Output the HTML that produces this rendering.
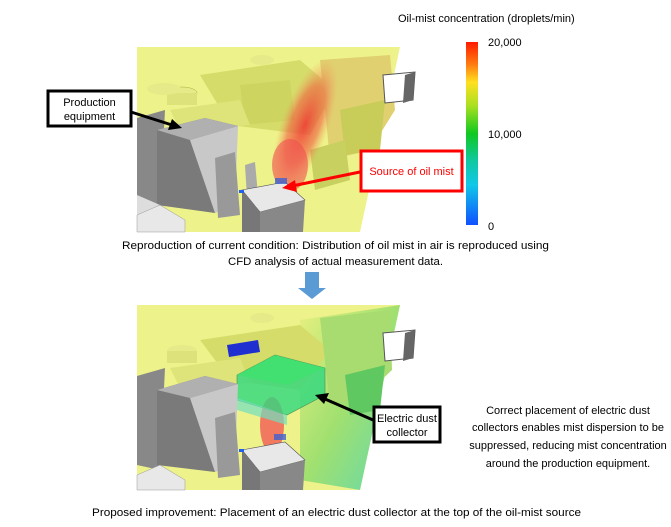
<!DOCTYPE html>
<html><head><meta charset="utf-8"><style>
html,body{margin:0;padding:0;background:#fff}
svg{display:block}
text{font-family:"Liberation Sans",sans-serif;font-size:11px;fill:#000}
</style></head><body>
<svg width="671" height="527" viewBox="0 0 671 527" xmlns="http://www.w3.org/2000/svg">
<defs>
<linearGradient id="cb" x1="0" y1="0" x2="0" y2="1">
<stop offset="0" stop-color="#ff1a00"/><stop offset="0.12" stop-color="#ff7a10"/>
<stop offset="0.22" stop-color="#ffe020"/><stop offset="0.35" stop-color="#a8e020"/>
<stop offset="0.5" stop-color="#10c820"/><stop offset="0.65" stop-color="#10c8a0"/>
<stop offset="0.78" stop-color="#10c8e8"/><stop offset="1" stop-color="#1050ff"/>
</linearGradient>
<radialGradient id="plume" cx="0.5" cy="0.5" r="0.5">
<stop offset="0" stop-color="#f03030" stop-opacity="0.85"/><stop offset="0.6" stop-color="#f06040" stop-opacity="0.6"/><stop offset="1" stop-color="#f0a060" stop-opacity="0"/>
</radialGradient>
<linearGradient id="grn" x1="0" y1="0" x2="1" y2="1">
<stop offset="0" stop-color="#e8f080"/><stop offset="0.5" stop-color="#a0e070"/><stop offset="1" stop-color="#60d8b0"/>
</linearGradient>
</defs>

<text x="398" y="22">Oil-mist concentration (droplets/min)</text>
<rect x="466" y="42" width="12" height="183" fill="url(#cb)"/>
<text x="488" y="46" fill="#333">20,000</text>
<text x="488" y="138" fill="#333">10,000</text>
<text x="488" y="230" fill="#333">0</text>

<!-- TOP IMAGE -->
<g>
<polygon points="137,47 400,47 360,232 137,232" fill="#eef28a"/>
<polygon points="200,75 300,60 335,90 310,135 230,125" fill="#d6dc6a"/>
<polygon points="240,85 290,80 295,120 245,125" fill="#cdd560"/>
<polygon points="170,110 240,100 250,125 180,130" fill="#dfe47a"/>
<ellipse cx="182" cy="93" rx="15" ry="6" fill="#e6ea88" stroke="#aab040" stroke-width="0.5"/>
<rect x="167" y="93" width="30" height="12" fill="#dde27a"/>
<ellipse cx="164" cy="89" rx="17" ry="6" fill="#e6ea88"/>
<ellipse cx="262" cy="60" rx="12" ry="5" fill="#e6ea88"/>
<polygon points="320,60 390,55 395,110 370,150 330,160" fill="#e0d070"/>
<polygon points="340,110 385,100 380,150 345,155" fill="#c8cc58"/>
<polygon points="310,150 345,140 350,180 315,190" fill="#c8d060"/>
<ellipse cx="305" cy="125" rx="24" ry="70" fill="url(#plume)" transform="rotate(20 305 125)"/>
<ellipse cx="290" cy="165" rx="18" ry="26" fill="#f05050" opacity="0.6"/>
<polygon points="383,75 415,72 413,100 385,103" fill="#fff" stroke="#555"/>
<polygon points="405,75 415,72 413,100 403,103" fill="#666"/>
<polygon points="137,118 165,110 160,210 137,205" fill="#888"/>
<polygon points="157,130 205,118 238,126 215,213 157,205" fill="#7a7a7a"/>
<polygon points="157,130 205,118 238,126 190,140" fill="#b0b0b0"/>
<polygon points="190,140 238,126 235,205 215,213" fill="#c8c8c8"/>
<polygon points="215,158 235,152 240,215 218,218" fill="#999"/>
<polygon points="245,165 255,162 258,195 247,197" fill="#aaa"/>
<polygon points="242,190 285,182 305,200 260,212" fill="#e8e8e8" stroke="#555" stroke-width="0.6"/>
<polygon points="242,190 260,212 260,232 242,232" fill="#777"/>
<polygon points="260,212 305,200 303,232 260,232" fill="#888"/>
<rect x="275" y="178" width="12" height="6" fill="#4060d0" opacity="0.8"/>
<rect x="239" y="190" width="5" height="3" fill="#2060f0"/>
<polygon points="137,195 160,205 165,232 137,232" fill="#ddd"/>
<polygon points="137,215 160,205 185,220 185,232 137,232" fill="#e8e8e8" stroke="#999" stroke-width="0.5"/>
</g>

<rect x="48" y="91" width="83" height="35" fill="#fff" stroke="#000" stroke-width="3"/>
<text x="89.5" y="106" text-anchor="middle">Production</text>
<text x="89.5" y="120" text-anchor="middle">equipment</text>
<line x1="131" y1="112" x2="172" y2="125" stroke="#000" stroke-width="3"/>
<polygon points="182,128 168,130 172,119" fill="#000"/>
<rect x="361" y="151" width="101" height="40" fill="#fff" stroke="#f00" stroke-width="3"/>
<text x="411.5" y="175" text-anchor="middle" style="fill:#f00">Source of oil mist</text>
<line x1="360" y1="172" x2="292" y2="186" stroke="#f00" stroke-width="3"/>
<polygon points="282,188 295,180 297,192" fill="#f00"/>

<text x="122" y="249" textLength="427" lengthAdjust="spacingAndGlyphs">Reproduction of current condition: Distribution of oil mist in air is reproduced using</text>
<text x="228" y="265" textLength="215" lengthAdjust="spacingAndGlyphs">CFD analysis of actual measurement data.</text>

<polygon points="305,272 319,272 319,288 326,288 312,299 298,288 305,288" fill="#5b9bd5"/>

<!-- BOTTOM IMAGE -->
<g>
<polygon points="137,305 400,305 360,490 137,490" fill="#eef28a"/>
<polygon points="300,320 400,305 360,490 300,480" fill="url(#grn)"/>
<polygon points="200,340 300,325 330,350 300,390 230,380" fill="#d6dc6a"/>
<polygon points="170,368 240,358 250,383 180,388" fill="#dfe47a"/>
<ellipse cx="182" cy="351" rx="15" ry="6" fill="#e6ea88"/>
<rect x="167" y="351" width="30" height="12" fill="#dde27a"/>
<ellipse cx="262" cy="318" rx="12" ry="5" fill="#e6ea88"/>
<polygon points="320,318 390,310 392,370 360,400 330,405" fill="#a8dc70"/>
<polygon points="345,375 385,365 380,410 350,415" fill="#60c860"/>
<polygon points="383,333 415,330 413,358 385,361" fill="#fff" stroke="#555"/>
<polygon points="405,333 415,330 413,358 403,361" fill="#666"/>
<polygon points="227,345 258,340 260,352 229,357" fill="#2030d0"/>
<ellipse cx="272" cy="425" rx="12" ry="28" fill="#f05050" opacity="0.75"/>
<polygon points="237,375 275,355 325,368 325,395 287,415 237,400" fill="#30d880" opacity="0.8" stroke="#2a7a4a" stroke-width="0.6"/>
<polygon points="237,375 275,355 325,368 287,385" fill="#40e070" opacity="0.9"/>
<polygon points="237,398 287,415 287,425 237,410" fill="#70e0c0" opacity="0.7"/>
<polygon points="137,376 165,368 160,470 137,465" fill="#888"/>
<polygon points="157,390 205,376 238,384 215,472 157,465" fill="#7a7a7a"/>
<polygon points="157,390 205,376 238,384 190,398" fill="#b0b0b0"/>
<polygon points="190,398 238,384 235,465 215,472" fill="#c8c8c8"/>
<polygon points="215,418 235,412 240,475 218,478" fill="#999"/>
<polygon points="242,450 285,442 305,460 260,472" fill="#e8e8e8" stroke="#555" stroke-width="0.6"/>
<polygon points="242,450 260,472 260,490 242,490" fill="#777"/>
<polygon points="260,472 305,460 303,490 260,490" fill="#888"/>
<rect x="274" y="434" width="12" height="6" fill="#4060d0" opacity="0.8"/>
<rect x="239" y="449" width="5" height="3" fill="#2060f0"/>
<polygon points="137,475 160,465 185,480 185,490 137,490" fill="#e8e8e8" stroke="#999" stroke-width="0.5"/>
</g>

<rect x="374" y="407" width="66" height="35" fill="#fff" stroke="#000" stroke-width="3"/>
<text x="407" y="422" text-anchor="middle">Electric dust</text>
<text x="407" y="436" text-anchor="middle">collector</text>
<line x1="373" y1="420" x2="325" y2="399" stroke="#000" stroke-width="3"/>
<polygon points="315,395 329,393 324,404" fill="#000"/>

<text x="568" y="414" text-anchor="middle">Correct placement of electric dust</text>
<text x="568" y="431" text-anchor="middle">collectors enables mist dispersion to be</text>
<text x="568" y="449" text-anchor="middle">suppressed, reducing mist concentration</text>
<text x="568" y="467" text-anchor="middle">around the production equipment.</text>

<text x="92" y="516" textLength="489" lengthAdjust="spacingAndGlyphs">Proposed improvement: Placement of an electric dust collector at the top of the oil-mist source</text>
</svg>
</body></html>
